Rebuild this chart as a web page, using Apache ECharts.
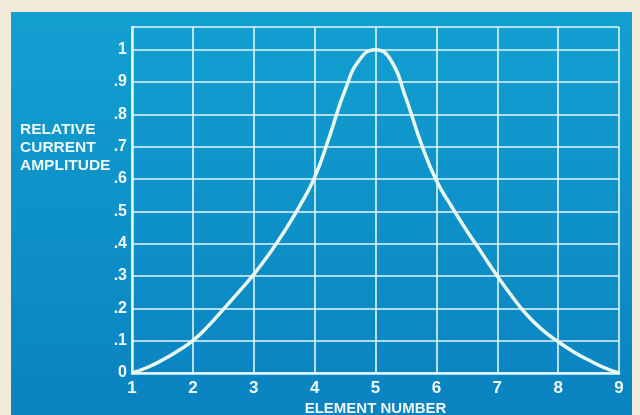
<!DOCTYPE html>
<html>
<head>
<meta charset="utf-8">
<script src="https://cdn.jsdelivr.net/npm/echarts@6/dist/echarts.min.js"></script>
<style>
html,body{margin:0;padding:0;background:#f2ead9;}
#c{width:640px;height:415px;}
</style>
</head>
<body>
<div id="c"></div>
<script>
// Element number (x) and relative current amplitude (y)
const elementNumber = [1, 1.25, 1.5, 1.75, 2, 2.25, 2.5, 2.75, 3, 3.25, 3.5, 3.75, 4, 4.25, 4.5, 4.75, 5,
                       5.25, 5.5, 5.75, 6, 6.25, 6.5, 6.75, 7, 7.25, 7.5, 7.75, 8, 8.25, 8.5, 8.75, 9];
const amplitude     = [0, 0.017, 0.04, 0.068, 0.1, 0.145, 0.197, 0.25, 0.305, 0.367, 0.437, 0.515, 0.605, 0.735, 0.875, 0.972, 1.0,
                       0.968, 0.85, 0.71, 0.595, 0.515, 0.44, 0.37, 0.3, 0.235, 0.177, 0.132, 0.097, 0.066, 0.04, 0.017, 0];
const yLabelLines = ['RELATIVE', 'CURRENT', 'AMPLITUDE'];
const xTitle = 'ELEMENT NUMBER';

const chart = echarts.init(document.getElementById('c'));
const lineCol = '#e4f6f6';
const textCol = '#eef8f4';
const font = '"Liberation Sans", Arial, sans-serif';

chart.setOption({
  backgroundColor: '#f2ead9',
  animation: false,
  graphic: [
    {type: 'rect', z: -10, shape: {x: 11, y: 12, width: 621, height: 410},
     style: {fill: new echarts.graphic.LinearGradient(0, 0, 0, 1, [
       {offset: 0, color: '#12a0d1'}, {offset: 1, color: '#0a82c0'}])}},
    {type: 'text', left: 20, top: 121, z: 10,
     style: {text: yLabelLines.join('\n'), fill: textCol, font: 'bold 15.5px ' + font, lineHeight: 18}}
  ],
  grid: {left: 132, right: 21, top: 27, bottom: 42, outerBoundsMode: 'none', containLabel: false},
  xAxis: {
    type: 'value', min: 1, max: 9, interval: 1,
    name: xTitle, nameLocation: 'middle', nameGap: 28, nameMoveOverlap: false,
    nameTextStyle: {color: textCol, fontFamily: font, fontWeight: 'bold', fontSize: 15},
    axisLine: {lineStyle: {color: lineCol, width: 2.5}},
    axisTick: {show: false},
    axisLabel: {color: textCol, fontFamily: font, fontWeight: 'bold', fontSize: 17, margin: 7},
    splitLine: {lineStyle: {color: lineCol, width: 1.6}}
  },
  yAxis: {
    type: 'value', min: 0, max: 1.07, interval: 0.1,
    axisLine: {show: true, lineStyle: {color: lineCol, width: 2.5}},
    axisTick: {show: false},
    axisLabel: {color: textCol, fontFamily: font, fontWeight: 'bold', fontSize: 16, margin: 5,
      formatter: function (v) {
        if (v > 1.001) return '';
        if (Math.abs(v) < 1e-9) return '0';
        if (Math.abs(v - 1) < 1e-9) return '1';
        return '.' + Math.round(v * 10);
      }},
    splitLine: {lineStyle: {color: lineCol, width: 1.6}}
  },
  series: [{
    type: 'line', smooth: 0.5, symbol: 'none',
    data: elementNumber.map((x, i) => [x, amplitude[i]]),
    lineStyle: {color: '#eaf8f2', width: 3.5}
  }]
});
</script>
</body>
</html>
